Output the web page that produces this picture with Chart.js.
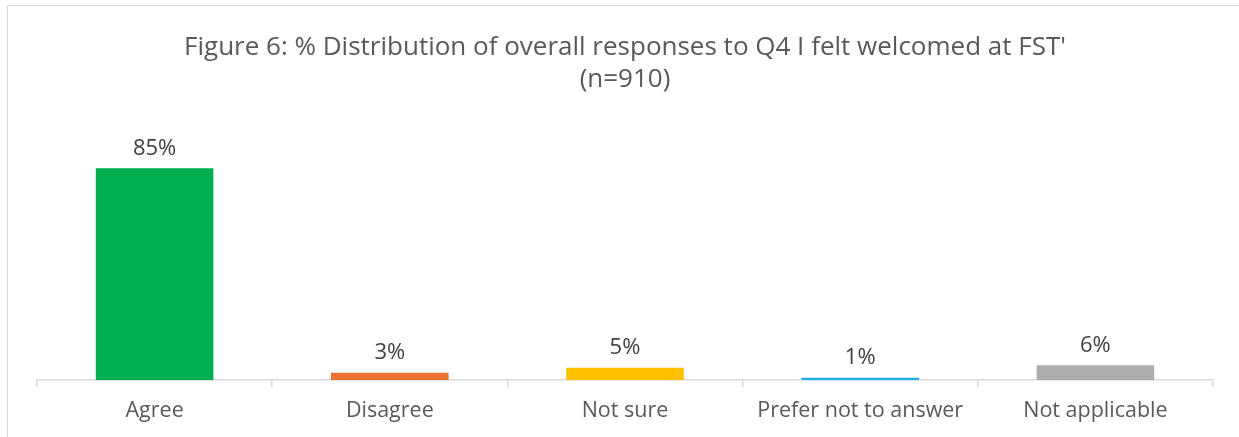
<!DOCTYPE html>
<html>
<head>
<meta charset="utf-8">
<title>Figure 6</title>
<script src="https://cdn.jsdelivr.net/npm/chart.js@4.4.1/dist/chart.umd.min.js"></script>
<style>
    html, body {
        margin: 0;
        padding: 0;
        background: #ffffff;
        overflow: hidden;
    }
    #wrap {
        position: relative;
        width: 1239px;
        height: 437px;
    }
    #frame {
        position: absolute;
        left: 7px;
        top: 5px;
        width: 1300px;
        height: 500px;
        border: 1.5px solid #d9d9d9;
        pointer-events: none;
    }
    canvas {
        position: absolute;
        left: 0;
        top: 0;
    }
</style>
</head>
<body>
<div id="wrap">
    <canvas id="q4-chart" width="1239" height="437"></canvas>
    <div id="frame"></div>
</div>
<script>
    // Responses to Q4 (n=910), in percent.
    var categories = ['Agree', 'Disagree', 'Not sure', 'Prefer not to answer', 'Not applicable'];
    var percentages = [85, 3, 5, 1, 6];
    var barColours = ['#00b050', '#e97132', '#ffc000', '#1aaeea', '#adadad'];
    var titleLines = ["Figure 6: % Distribution of overall responses to Q4 I felt welcomed at FST'", '(n=910)'];

    var FONT = '"Open Sans", "Liberation Sans", sans-serif';

    // Writes the percentage above each bar.
    var valueLabels = {
        id: 'valueLabels',
        afterDatasetsDraw: function (chart) {
            var ctx = chart.ctx;
            var meta = chart.getDatasetMeta(0);
            ctx.save();
            ctx.font = '22px ' + FONT;
            ctx.fillStyle = '#404040';
            ctx.textAlign = 'center';
            ctx.textBaseline = 'bottom';
            meta.data.forEach(function (bar, i) {
                ctx.fillText(percentages[i] + '%', bar.x, bar.y - 9);
            });
            ctx.restore();
        }
    };

    new Chart(document.getElementById('q4-chart').getContext('2d'), {
        type: 'bar',
        data: {
            labels: categories,
            datasets: [{
                data: percentages,
                backgroundColor: barColours,
                borderWidth: 0,
                categoryPercentage: 1,
                barPercentage: 0.5
            }]
        },
        options: {
            responsive: false,
            animation: false,
            layout: {
                padding: { left: 37, right: 26, top: 0, bottom: 2 }
            },
            plugins: {
                legend: { display: false },
                tooltip: { enabled: false },
                title: {
                    display: true,
                    text: titleLines,
                    color: '#595959',
                    font: { family: FONT, size: 26, weight: 'normal', lineHeight: 1.23 },
                    padding: { top: 32, bottom: 35 }
                }
            },
            scales: {
                x: {
                    grid: {
                        display: true,
                        offset: true,
                        drawOnChartArea: false,
                        color: '#d9d9d9',
                        lineWidth: 1.5,
                        tickLength: 7
                    },
                    border: { color: '#d9d9d9', width: 1.5 },
                    ticks: {
                        color: '#595959',
                        padding: 11,
                        font: { family: FONT, size: 21.5 }
                    }
                },
                y: {
                    display: false,
                    min: 0,
                    max: 100
                }
            }
        },
        plugins: [valueLabels]
    });
</script>
</body>
</html>
